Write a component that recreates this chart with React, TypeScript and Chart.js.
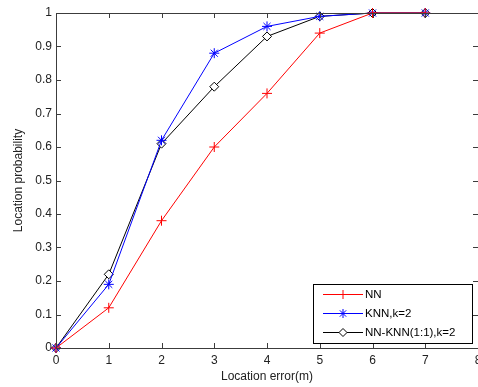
import React, { useEffect, useRef } from 'react';
import { Chart, registerables } from 'chart.js';

Chart.register(...registerables);

const xValues = [0, 1, 2, 3, 4, 5, 6, 7];
const nnValues = [0, 0.12, 0.38, 0.6, 0.76, 0.94, 1, 1];
const knnValues = [0, 0.19, 0.62, 0.88, 0.96, 0.99, 1, 1];
const mixValues = [0, 0.22, 0.61, 0.78, 0.93, 0.99, 1, 1];
const seriesNames = ['NN', 'KNN,k=2', 'NN-KNN(1:1),k=2'];
const xTitle = 'Location error(m)';
const yTitle = 'Location probability';

const FONT = '"Liberation Sans", Arial, sans-serif';
const AXIS = '#3c3c3c';

function drawMarker(ctx: CanvasRenderingContext2D, style: string, x: number, y: number, r: number, color: string) {
  ctx.save();
  ctx.strokeStyle = color;
  ctx.lineWidth = 1;
  ctx.beginPath();
  if (style === 'cross') {
    ctx.moveTo(x - r, y); ctx.lineTo(x + r, y);
    ctx.moveTo(x, y - r); ctx.lineTo(x, y + r);
    ctx.stroke();
  } else if (style === 'star') {
    ctx.moveTo(x - r, y); ctx.lineTo(x + r, y);
    ctx.moveTo(x, y - r); ctx.lineTo(x, y + r);
    const d = r * 0.707;
    ctx.moveTo(x - d, y - d); ctx.lineTo(x + d, y + d);
    ctx.moveTo(x - d, y + d); ctx.lineTo(x + d, y - d);
    ctx.stroke();
  } else {
    ctx.moveTo(x, y - r); ctx.lineTo(x + r, y); ctx.lineTo(x, y + r); ctx.lineTo(x - r, y); ctx.closePath();
    ctx.fillStyle = '#fff';
    ctx.fill();
    ctx.stroke();
  }
  ctx.restore();
}

const frameAndLegend = {
  id: 'frameAndLegend',
  afterDatasetsDraw(chart: any) {
    const { ctx, chartArea } = chart;
    const { left, right, top, bottom } = chartArea;
    const xs = chart.scales.x;
    const ys = chart.scales.y;
    ctx.save();
    ctx.strokeStyle = AXIS;
    ctx.lineWidth = 1;
    ctx.strokeRect(Math.round(left) + 0.5, Math.round(top) + 0.5, Math.round(right - left), Math.round(bottom - top));
    const tl = 5;
    ctx.beginPath();
    for (let v = 0; v <= 8; v++) {
      const px = Math.round(xs.getPixelForValue(v)) + 0.5;
      ctx.moveTo(px, bottom); ctx.lineTo(px, bottom - tl);
      ctx.moveTo(px, top); ctx.lineTo(px, top + tl);
    }
    for (let i = 0; i <= 10; i++) {
      const py = Math.round(ys.getPixelForValue(i / 10)) + 0.5;
      ctx.moveTo(left, py); ctx.lineTo(left + tl, py);
      ctx.moveTo(right, py); ctx.lineTo(right - tl, py);
    }
    ctx.stroke();

    // legend
    const bx = 313.5, by = 284.5, bw = 159, bh = 59;
    ctx.fillStyle = '#fff';
    ctx.fillRect(bx, by, bw, bh);
    ctx.strokeStyle = '#000';
    ctx.strokeRect(bx, by, bw, bh);
    const rows = [294, 313, 332];
    const styles = ['cross', 'star', 'diamond'];
    const colors = ['#ff0000', '#0000ff', '#000000'];
    ctx.font = `11.5px ${FONT}`;
    ctx.textBaseline = 'middle';
    ctx.textAlign = 'left';
    rows.forEach((ry, i) => {
      ctx.strokeStyle = colors[i];
      ctx.beginPath();
      ctx.moveTo(323, ry + 0.5); ctx.lineTo(363, ry + 0.5);
      ctx.stroke();
      drawMarker(ctx, styles[i], 343, ry + 0.5, i === 2 ? 4 : 4.5, colors[i]);
      ctx.fillStyle = '#000';
      ctx.fillText(seriesNames[i], 365, ry + 1);
    });
    ctx.restore();
  },
};

export default function App() {
  const ref = useRef<HTMLCanvasElement | null>(null);
  useEffect(() => {
    document.body.style.margin = '0';
    const toPts = (vals: number[]) => vals.map((v, i) => ({ x: xValues[i], y: v }));
    const chart = new Chart(ref.current!, {
      type: 'line',
      data: {
        datasets: [
          {
            label: seriesNames[0], data: toPts(nnValues), borderColor: '#ff0000', backgroundColor: '#ff0000',
            borderWidth: 1, pointStyle: 'cross', pointRadius: 5, pointBorderWidth: 1, tension: 0, clip: false as any,
          },
          {
            label: seriesNames[1], data: toPts(knnValues), borderColor: '#0000ff', backgroundColor: '#0000ff',
            borderWidth: 1, pointStyle: 'star', pointRadius: 5, pointBorderWidth: 1, tension: 0, clip: false as any,
          },
          {
            label: seriesNames[2], data: toPts(mixValues), borderColor: '#000000', backgroundColor: '#ffffff',
            borderWidth: 1, pointStyle: 'rectRot', pointRadius: 4.5, pointBorderWidth: 1, tension: 0, clip: false as any,
          },
        ],
      },
      options: {
        responsive: false,
        animation: false,
        layout: { padding: { top: 13, right: 14, left: 0, bottom: 0 } },
        plugins: { legend: { display: false }, tooltip: { enabled: false } },
        scales: {
          x: {
            type: 'linear', min: 0, max: 8,
            grid: { display: false, drawTicks: false },
            border: { display: false },
            ticks: { stepSize: 1, padding: 5, color: '#222', font: { family: FONT, size: 12 }, maxRotation: 0, autoSkip: false },
            title: { display: true, text: xTitle, color: '#222', font: { family: FONT, size: 12 }, padding: { top: 0, bottom: 3 } },
            afterFit: (s: any) => { s.height = 39; },
          },
          y: {
            type: 'linear', min: 0, max: 1,
            grid: { display: false, drawTicks: false },
            border: { display: false },
            ticks: { stepSize: 0.1, padding: 4, color: '#222', font: { family: FONT, size: 12 }, autoSkip: false,
              callback: (v: any) => { const n = Math.round(Number(v) * 10) / 10; return String(n); } },
            title: { display: true, text: yTitle, color: '#222', font: { family: FONT, size: 12 }, padding: { top: 11, bottom: 0 } },
            afterFit: (s: any) => { s.width = 56; },
          },
        },
      },
      plugins: [frameAndLegend],
    });
    return () => chart.destroy();
  }, []);
  return (
    <div style={{ width: 478, height: 387, overflow: 'hidden', background: '#fff' }}>
      <canvas ref={ref} width={492} height={387} style={{ display: 'block' }} />
    </div>
  );
}
